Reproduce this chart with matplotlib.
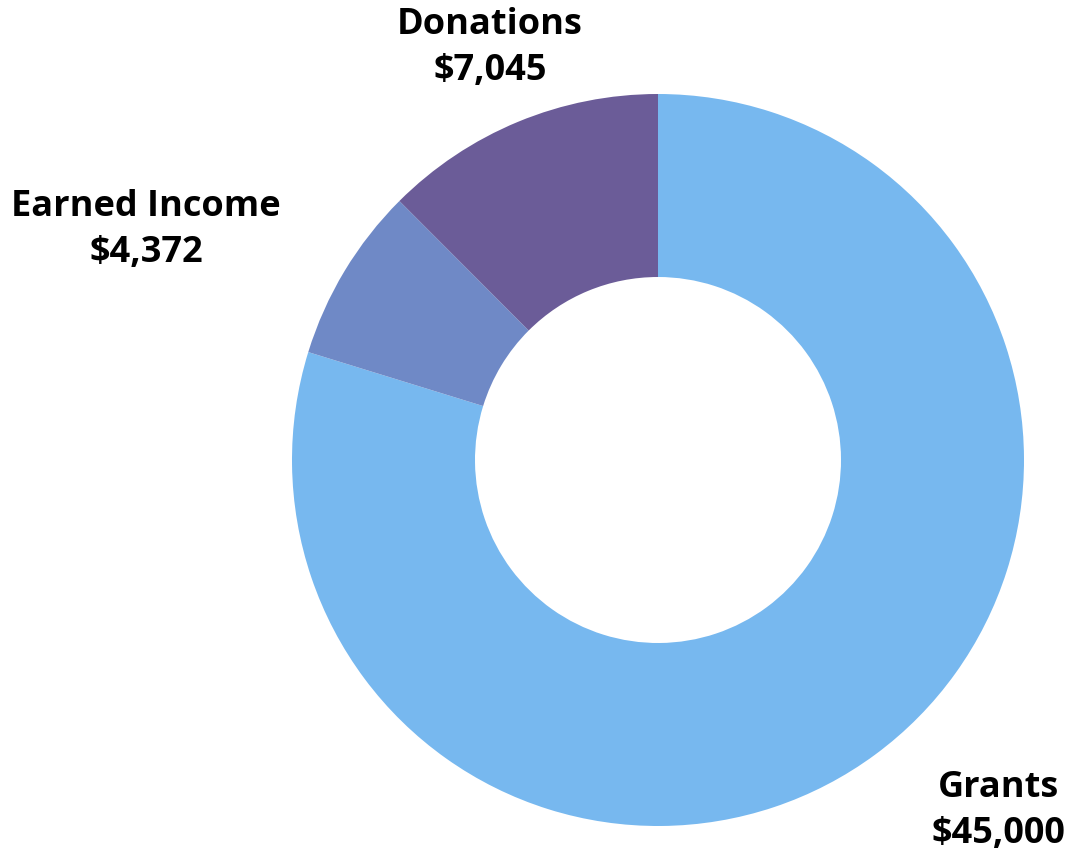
import matplotlib
matplotlib.use("Agg")
import matplotlib.pyplot as plt

# data
labels = ["Grants", "Earned Income", "Donations"]
values = [45000, 4372, 7045]
colors = ["#77B8EF", "#6F89C6", "#6B5C98"]
# label positions (data coords, pie radius = 1)
label_pos = [(0.929, -0.959), (-1.399, 0.628), (-0.459, 1.126)]

W, H = 1082, 858
fig = plt.figure(figsize=(W / 100, H / 100), dpi=100)
cx, cy, r = 658, 460, 366
ax = fig.add_axes([(cx - r) / W, (H - cy - r) / H, 2 * r / W, 2 * r / H])

ax.pie(values, colors=colors, startangle=90, counterclock=False, radius=1,
       wedgeprops=dict(width=0.5, linewidth=0))
ax.set_xlim(-1, 1)
ax.set_ylim(-1, 1)
ax.set_aspect("equal")
ax.axis("off")

for lab, v, (x, y) in zip(labels, values, label_pos):
    ax.text(x, y, f"{lab}\n${v:,}", ha="center", va="center", fontsize=26,
            fontweight="bold", family="Open Sans", linespacing=1.37, clip_on=False)

fig.savefig("out.png", dpi=100)
